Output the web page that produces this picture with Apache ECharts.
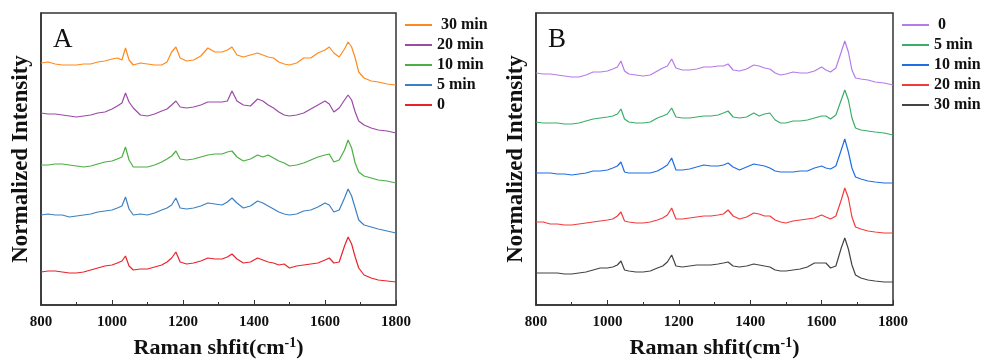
<!DOCTYPE html>
<html>
<head>
<meta charset="utf-8">
<script src="https://cdn.jsdelivr.net/npm/echarts@6/dist/echarts.min.js"></script>
<style>
  html, body { margin: 0; padding: 0; background: #fff; }
  #chart { width: 982px; height: 359px; }
</style>
</head>
<body>
<div id="chart"></div>
<script>
// Raman shift grid (cm-1)
const shift = [800, 820, 840, 860, 880, 900, 920, 940, 960, 980,
  1000, 1015, 1028, 1038, 1048, 1060, 1080, 1100, 1120, 1140,
  1155, 1168, 1180, 1192, 1210, 1230, 1250, 1270, 1290, 1310,
  1325, 1338, 1352, 1370, 1390, 1410, 1425, 1440, 1455, 1470,
  1485, 1500, 1520, 1540, 1560, 1580, 1600, 1612, 1625, 1640,
  1655, 1665, 1675, 1685, 1695, 1710, 1730, 1750, 1775, 1800];

const xTicks = [800, 1000, 1200, 1400, 1600, 1800];

// panel A (offset-stacked spectra)
const a30 = [242, 243, 241, 240, 240, 240, 241, 241, 243, 244,
  246, 247, 245, 257, 245, 240, 242, 241, 240, 240,
  243, 253, 258, 247, 244, 245, 249, 257, 253, 253,
  255, 258, 250, 248, 250, 252, 250, 248, 247, 243,
  241, 240, 242, 247, 247, 252, 255, 258, 252, 248,
  256, 263, 258, 247, 233, 227, 224, 223, 221, 220];
const a20 = [192, 191, 191, 190, 189, 188, 189, 190, 192, 193,
  196, 199, 202, 212, 203, 197, 190, 189, 191, 194,
  196, 200, 204, 198, 197, 198, 200, 203, 203, 203,
  204, 214, 204, 200, 199, 206, 204, 200, 197, 193,
  190, 189, 190, 192, 196, 200, 204, 201, 193, 197,
  205, 210, 205, 193, 184, 180, 177, 175, 174, 172];
const a10 = [140, 140, 141, 141, 140, 139, 138, 139, 141, 143,
  144, 146, 148, 158, 145, 138, 138, 138, 140, 143,
  146, 149, 154, 146, 145, 146, 148, 150, 151, 151,
  153, 154, 148, 144, 146, 150, 148, 150, 147, 144,
  142, 139, 140, 142, 145, 148, 150, 151, 143, 145,
  155, 165, 157, 142, 133, 129, 127, 125, 124, 122];
const a5 = [90, 91, 90, 90, 88, 89, 90, 91, 93, 94,
  95, 97, 99, 108, 96, 90, 91, 90, 92, 95,
  97, 100, 107, 97, 96, 97, 99, 102, 101, 100,
  103, 107, 102, 97, 99, 104, 102, 99, 96, 93,
  91, 90, 91, 94, 95, 98, 102, 100, 93, 95,
  107, 116, 109, 97, 85, 80, 78, 76, 74, 72];
const a0 = [33, 34, 34, 33, 32, 32, 33, 35, 37, 39,
  40, 42, 44, 49, 39, 35, 36, 36, 38, 40,
  43, 47, 53, 43, 41, 42, 44, 47, 46, 46,
  48, 51, 46, 42, 43, 47, 45, 43, 42, 40,
  41, 37, 39, 40, 41, 42, 45, 47, 42, 43,
  59, 68, 61, 48, 37, 30, 27, 25, 24, 23];

// panel B
const b0 = [232, 231, 231, 230, 229, 228, 228, 230, 233, 233,
  234, 236, 238, 244, 234, 231, 230, 229, 230, 234,
  237, 239, 246, 237, 235, 235, 236, 238, 238, 239,
  239, 241, 235, 234, 236, 240, 239, 237, 236, 232,
  230, 231, 233, 232, 232, 234, 238, 235, 233, 237,
  253, 264, 253, 235, 227, 226, 225, 223, 222, 220];
const b5 = [183, 182, 182, 182, 181, 181, 182, 184, 186, 187,
  188, 189, 191, 196, 186, 183, 182, 182, 183, 187,
  189, 191, 197, 188, 187, 187, 188, 189, 189, 190,
  192, 194, 188, 187, 188, 192, 189, 191, 192, 185,
  182, 182, 184, 184, 185, 187, 189, 189, 186, 190,
  205, 215, 205, 187, 177, 175, 174, 173, 172, 170];
const b10 = [132, 132, 132, 131, 131, 130, 131, 132, 134, 134,
  135, 137, 139, 143, 133, 132, 132, 132, 132, 134,
  137, 140, 147, 135, 135, 136, 138, 140, 139, 139,
  140, 142, 138, 135, 138, 141, 140, 139, 137, 134,
  133, 133, 133, 134, 134, 137, 139, 137, 136, 139,
  155, 166, 153, 137, 128, 126, 124, 123, 122, 122];
const b20 = [83, 83, 81, 81, 80, 80, 81, 82, 83, 84,
  85, 86, 89, 93, 84, 83, 82, 82, 83, 85,
  87, 90, 97, 86, 86, 87, 88, 89, 89, 90,
  91, 95, 89, 86, 88, 92, 91, 89, 89, 85,
  83, 82, 84, 85, 86, 87, 90, 88, 86, 89,
  105, 117, 107, 88, 78, 76, 74, 73, 72, 72];
const b30 = [32, 32, 32, 32, 31, 31, 32, 33, 35, 37,
  37, 38, 40, 44, 35, 34, 33, 33, 34, 37,
  39, 43, 50, 39, 38, 39, 40, 40, 40, 41,
  42, 43, 39, 38, 39, 41, 40, 39, 38, 35,
  34, 34, 35, 36, 38, 42, 42, 42, 37, 39,
  57, 67, 56, 40, 30, 27, 25, 24, 23, 23];

const labelsA = [" 30 min", "20 min", "10 min", "5 min", "0"];
const labelsB = [" 0", "5 min", "10 min", "20 min", "30 min"];
const colorsA = ["#ff8a1c", "#9b4aa6", "#4cae44", "#3d80c2", "#e8232b"];
const colorsB = ["#b57be8", "#3aad68", "#1f6fe2", "#f23c3c", "#444444"];
const dataA = [a30, a20, a10, a5, a0];
const dataB = [b0, b5, b10, b20, b30];

const font = "'Liberation Serif', 'Times New Roman', serif";

function xAxisFor(gridIndex) {
  return {
    gridIndex: gridIndex,
    type: "value",
    min: 800,
    max: 1800,
    interval: 200,
    axisLine: { lineStyle: { color: "#333", width: 1.5 } },
    axisTick: { inside: true, length: 5, lineStyle: { color: "#333" } },
    minorTick: { show: true, splitNumber: 2, length: 3, lineStyle: { color: "#333" } },
    splitLine: { show: false },
    axisLabel: {
      margin: 10,
      color: "#111",
      fontFamily: font,
      fontWeight: "bold",
      fontSize: 15,
      formatter: (v) => (xTicks.indexOf(v) >= 0 ? String(v) : ""),
    },
    name: "Raman shfit(cm{sup|-1})",
    nameLocation: "middle",
    nameGap: 31,
    nameTextStyle: {
      color: "#111",
      fontFamily: font,
      fontWeight: "bold",
      fontSize: 22,
      rich: {
        sup: { fontFamily: font, fontWeight: "bold", fontSize: 14, color: "#111", verticalAlign: "top", padding: [0, 0, 11, 0] },
      },
    },
  };
}

function yAxisFor(gridIndex) {
  return {
    gridIndex: gridIndex,
    type: "value",
    min: 0,
    max: 292,
    axisLine: { show: true, lineStyle: { color: "#333", width: 1.5 } },
    axisTick: { show: false },
    axisLabel: { show: false },
    splitLine: { show: false },
    name: "Normalized Intensity",
    nameLocation: "middle",
    nameGap: 8,
    nameTextStyle: { color: "#111", fontFamily: font, fontWeight: "bold", fontSize: 23 },
  };
}

function seriesFor(prefix, labels, colors, rows, idx) {
  return rows.map((row, i) => ({
    name: prefix + labels[i],
    type: "line",
    xAxisIndex: idx,
    yAxisIndex: idx,
    showSymbol: false,
    symbol: "none",
    color: colors[i],
    lineStyle: { width: 1.2, color: colors[i] },
    data: shift.map((x, j) => [x, row[j]]),
  }));
}

function legendFor(prefix, labels, left) {
  return {
    orient: "vertical",
    left: left,
    top: 12,
    itemWidth: 27,
    itemHeight: 2,
    itemGap: 4,
    icon: "rect",
    data: labels.map((l) => prefix + l),
    formatter: (name) => name.slice(prefix.length),
    textStyle: { color: "#111", fontFamily: font, fontWeight: "bold", fontSize: 16, lineHeight: 16 },
  };
}

const gridBase = {
  top: 13,
  height: 292,
  show: true,
  borderColor: "#333",
  borderWidth: 1.5,
  backgroundColor: "transparent",
  containLabel: false,
  outerBoundsMode: "none",
};

const option = {
  animation: false,
  backgroundColor: "#fff",
  title: [
    { text: "A", left: 48, top: 21, textStyle: { fontFamily: font, fontWeight: "normal", fontSize: 27, color: "#111" } },
    { text: "B", left: 543, top: 21, textStyle: { fontFamily: font, fontWeight: "normal", fontSize: 27, color: "#111" } },
  ],
  grid: [
    Object.assign({ left: 41, width: 355 }, gridBase),
    Object.assign({ left: 536, width: 357 }, gridBase),
  ],
  legend: [legendFor("A", labelsA, 400), legendFor("B", labelsB, 897)],
  xAxis: [xAxisFor(0), xAxisFor(1)],
  yAxis: [yAxisFor(0), yAxisFor(1)],
  series: seriesFor("A", labelsA, colorsA, dataA, 0).concat(seriesFor("B", labelsB, colorsB, dataB, 1)),
};

const chart = echarts.init(document.getElementById("chart"), null, { renderer: "canvas" });
chart.setOption(option);
</script>
</body>
</html>
